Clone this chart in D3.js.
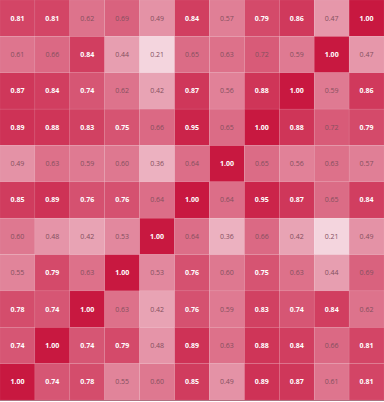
<!DOCTYPE html>
<html>
<head>
<meta charset="utf-8">
<script src="https://cdn.jsdelivr.net/npm/d3@7"></script>
<style>
  body { margin: 0; background: #fff; }
  .chart text { font-family: "Open Sans", sans-serif; }
</style>
</head>
<body>
<div class="chart"></div>
<script>
// variables, top row first / left column first
const cols = ['v0','v1','v2','v3','v4','v5','v6','v7','v8','v9','v10'];
const rows = ['v10','v9','v8','v7','v6','v5','v4','v3','v2','v1','v0'];

const values = [
  [0.81, 0.81, 0.62, 0.69, 0.49, 0.84, 0.57, 0.79, 0.86, 0.47, 1.00],
  [0.61, 0.66, 0.84, 0.44, 0.21, 0.65, 0.63, 0.72, 0.59, 1.00, 0.47],
  [0.87, 0.84, 0.74, 0.62, 0.42, 0.87, 0.56, 0.88, 1.00, 0.59, 0.86],
  [0.89, 0.88, 0.83, 0.75, 0.66, 0.95, 0.65, 1.00, 0.88, 0.72, 0.79],
  [0.49, 0.63, 0.59, 0.60, 0.36, 0.64, 1.00, 0.65, 0.56, 0.63, 0.57],
  [0.85, 0.89, 0.76, 0.76, 0.64, 1.00, 0.64, 0.95, 0.87, 0.65, 0.84],
  [0.60, 0.48, 0.42, 0.53, 1.00, 0.64, 0.36, 0.66, 0.42, 0.21, 0.49],
  [0.55, 0.79, 0.63, 1.00, 0.53, 0.76, 0.60, 0.75, 0.63, 0.44, 0.69],
  [0.78, 0.74, 1.00, 0.63, 0.42, 0.76, 0.59, 0.83, 0.74, 0.84, 0.62],
  [0.74, 1.00, 0.74, 0.79, 0.48, 0.89, 0.63, 0.88, 0.84, 0.66, 0.81],
  [1.00, 0.74, 0.78, 0.55, 0.60, 0.85, 0.49, 0.89, 0.87, 0.61, 0.81]
];

const width = 384, height = 402;

const svg = d3.select(".chart")
  .append("svg")
  .attr("width", width)
  .attr("height", height);

const x = d3.scaleBand()
  .domain(cols)
  .range([0, width]);

const y = d3.scaleBand()
  .domain(rows)
  .range([0, height - 2]);

const color = d3.scaleLinear()
  .domain([0.21, 1])
  .range(["#f4d5de", "#c81840"]);

const cells = [];
values.forEach((row, i) => row.forEach((v, j) => cells.push({row: rows[i], col: cols[j], v: v})));

svg.selectAll('rect')
  .data(cells)
  .enter()
  .append('rect')
  .attr('x', d => x(d.col))
  .attr('y', d => y(d.row))
  .attr('width', x.bandwidth())
  .attr('height', y.bandwidth())
  .attr('fill', d => color(d.v))
  .attr('stroke', 'rgba(255,255,255,0.12)')
  .attr('stroke-width', 0.5);

svg.selectAll('text.val')
  .data(cells)
  .enter()
  .append('text')
  .attr('class', 'val')
  .attr('x', d => x(d.col) + x.bandwidth() / 2)
  .attr('y', d => y(d.row) + y.bandwidth() / 2)
  .attr('dy', '0.35em')
  .attr('text-anchor', 'middle')
  .attr('font-size', 7)
  .attr('font-weight', d => d.v >= 0.73 ? 'bold' : 'normal')
  .attr('fill', d => d.v >= 0.73 ? '#fff' : '#84505e')
  .text(d => d.v.toFixed(2));

// thin baseline at the bottom
svg.append('line')
  .attr('x1', 0).attr('x2', width)
  .attr('y1', height - 1.5).attr('y2', height - 1.5)
  .attr('stroke', '#b07080')
  .attr('stroke-width', 1);
</script>
</body>
</html>
